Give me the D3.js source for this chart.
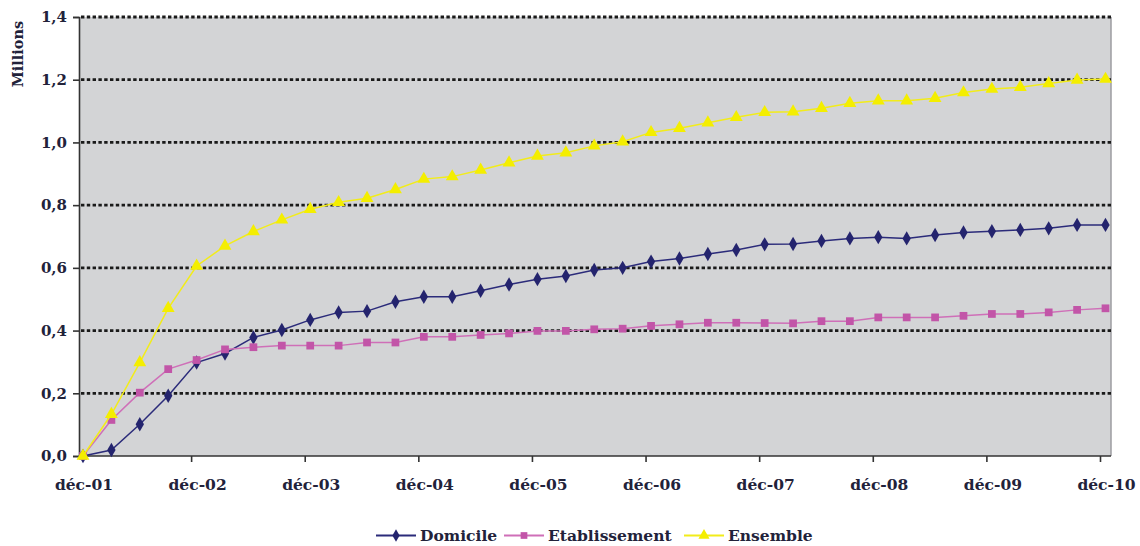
<!DOCTYPE html>
<html>
<head>
<meta charset="utf-8">
<script src="https://cdn.jsdelivr.net/npm/d3@7"></script>
<style>
  html, body { margin: 0; padding: 0; background: #ffffff; }
  svg { display: block; }
  text { font-family: "DejaVu Serif", "Liberation Serif", serif; font-weight: bold; fill: #22223a; }
</style>
</head>
<body>
<svg id="chart" width="1140" height="546"></svg>
<script>
// Quarterly observations, déc-01 to déc-10 (37 points), in millions
const yearLabels = ["déc-01","déc-02","déc-03","déc-04","déc-05","déc-06","déc-07","déc-08","déc-09","déc-10"];

const domicile = [0.000,0.019,0.101,0.192,0.298,0.327,0.378,0.402,0.434,0.458,0.462,
  0.492,0.508,0.508,0.527,0.547,0.564,0.574,0.593,0.600,0.620,0.630,0.644,0.657,0.675,
  0.676,0.686,0.694,0.698,0.694,0.705,0.713,0.717,0.721,0.726,0.737,0.737];

const etablissement = [0.000,0.115,0.202,0.277,0.306,0.340,0.347,0.352,0.352,0.352,0.362,
  0.362,0.380,0.380,0.386,0.391,0.399,0.399,0.404,0.406,0.415,0.420,0.425,0.425,0.424,
  0.423,0.430,0.430,0.442,0.442,0.442,0.447,0.453,0.453,0.458,0.466,0.471];

const ensemble = [0.000,0.133,0.298,0.471,0.606,0.670,0.716,0.753,0.787,0.809,0.822,
  0.850,0.883,0.891,0.912,0.935,0.957,0.967,0.989,1.002,1.032,1.045,1.063,1.080,1.096,
  1.098,1.109,1.125,1.133,1.133,1.141,1.159,1.170,1.176,1.188,1.199,1.202];

const yTicks = [0, 0.2, 0.4, 0.6, 0.8, 1.0, 1.2, 1.4];

const series = [
  { name: "Domicile",      values: domicile,      line: "#2b2b7a", fill: "#24246e", shape: d3.symbolDiamond,  size: 60 },
  { name: "Etablissement", values: etablissement, line: "#cf6fb8", fill: "#c255a8", shape: d3.symbolSquare,   size: 60 },
  { name: "Ensemble",      values: ensemble,      line: "#f2ec1a", fill: "#f4ee00", shape: d3.symbolTriangle, size: 72 }
];

const svg = d3.select("#chart");
const plot = { left: 79, right: 1111, top: 17, bottom: 456 };

const x = d3.scaleLinear().domain([0, 36]).range([83, 1105.5]);
const y = d3.scaleLinear().domain([0, 1.4]).range([plot.bottom, plot.top]);

// plot background
svg.append("rect")
  .attr("x", plot.left).attr("y", plot.top)
  .attr("width", plot.right - plot.left).attr("height", plot.bottom - plot.top)
  .attr("fill", "#d3d4d6");

// right frame edge
svg.append("line")
  .attr("x1", plot.right).attr("x2", plot.right)
  .attr("y1", plot.top).attr("y2", plot.bottom)
  .attr("stroke", "#9c9da0").attr("stroke-width", 1.5);

// dotted horizontal gridlines
svg.append("g")
  .selectAll("line")
  .data(yTicks.filter(d => d > 0))
  .join("line")
  .attr("x1", plot.left + 2).attr("x2", plot.right)
  .attr("y1", d => y(d)).attr("y2", d => y(d))
  .attr("stroke", "#1a1a1a")
  .attr("stroke-width", 2.8)
  .attr("stroke-dasharray", "3.4,2.4");

// y axis
const yAxis = d3.axisLeft(y)
  .tickValues(yTicks)
  .tickSize(6)
  .tickPadding(6)
  .tickFormat(d => d3.format(".1f")(d).replace(".", ","));

const gy = svg.append("g")
  .attr("transform", `translate(${plot.left},0)`)
  .call(yAxis);
gy.select(".domain").attr("stroke", "#333").attr("stroke-width", 1.6);
gy.selectAll(".tick line").attr("stroke", "#333").attr("stroke-width", 1.6);
gy.selectAll(".tick text").attr("font-size", 15).attr("font-family", "DejaVu Serif").attr("font-weight", "bold").attr("fill", "#22223a");

// x axis: year ticks every fourth quarter
const yearIdx = yearLabels.map((_, i) => i * 4);
svg.append("line")
  .attr("x1", plot.left).attr("x2", plot.right)
  .attr("y1", plot.bottom).attr("y2", plot.bottom)
  .attr("stroke", "#333").attr("stroke-width", 1.6);

const gx = svg.append("g");
gx.selectAll("line")
  .data(yearIdx.slice(1))
  .join("line")
  .attr("x1", d => x(d) - 5).attr("x2", d => x(d) - 5)
  .attr("y1", plot.bottom).attr("y2", plot.bottom + 6)
  .attr("stroke", "#333").attr("stroke-width", 1.6);
gx.selectAll("text")
  .data(yearIdx)
  .join("text")
  .attr("x", d => x(d) + 1)
  .attr("y", 490)
  .attr("text-anchor", "middle")
  .attr("font-size", 15.5)
  .text((d, i) => yearLabels[i]);

// axis title
svg.append("text")
  .attr("transform", "translate(23,54) rotate(-90)")
  .attr("text-anchor", "middle")
  .attr("font-size", 14.5)
  .text("Millions");

// series lines and markers
const line = d3.line().x((d, i) => x(i)).y(d => y(d));

series.forEach(s => {
  const g = svg.append("g");
  g.append("path")
    .datum(s.values)
    .attr("fill", "none")
    .attr("stroke", s.line)
    .attr("stroke-width", 1.5)
    .attr("d", line);
  g.selectAll("path.m")
    .data(s.values)
    .join("path")
    .attr("class", "m")
    .attr("transform", (d, i) => `translate(${x(i)},${y(d)})`)
    .attr("d", d3.symbol().type(s.shape).size(s.size))
    .attr("fill", s.fill);
});

// legend
const legendItems = [
  { s: series[0], x0: 376 },
  { s: series[1], x0: 504 },
  { s: series[2], x0: 684 }
];
const ly = 535.5;
legendItems.forEach(({ s, x0 }) => {
  const g = svg.append("g");
  g.append("line")
    .attr("x1", x0).attr("x2", x0 + 40)
    .attr("y1", ly).attr("y2", ly)
    .attr("stroke", s.line).attr("stroke-width", 1.8);
  g.append("path")
    .attr("transform", `translate(${x0 + 20},${ly})`)
    .attr("d", d3.symbol().type(s.shape).size(s.size * 0.75))
    .attr("fill", s.fill);
  g.append("text")
    .attr("x", x0 + 44)
    .attr("y", ly + 5.5)
    .attr("font-size", 15.5)
    .text(s.name);
});
</script>
</body>
</html>
